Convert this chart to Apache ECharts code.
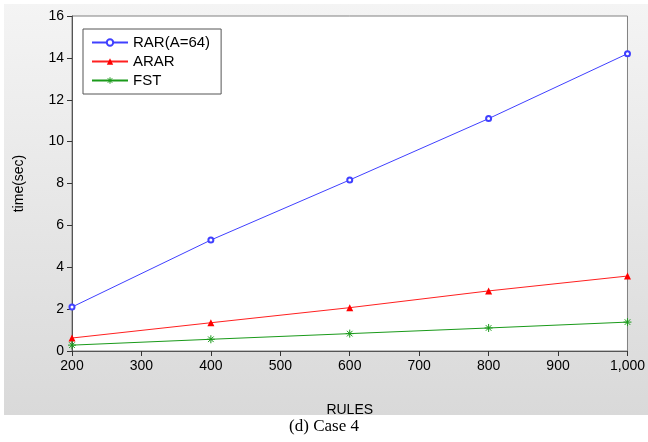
<!DOCTYPE html>
<html><head><meta charset="utf-8">
<script src="https://cdn.jsdelivr.net/npm/echarts@6/dist/echarts.min.js"></script>
<style>html,body{margin:0;padding:0;background:#fff}#c{width:648px;height:442px}</style>
</head><body><div id="c"></div>
<script>
const rules = [200, 400, 600, 800, 1000];
const rarValues = [2.1, 5.3, 8.17, 11.1, 14.2];
const ararValues = [0.62, 1.35, 2.07, 2.87, 3.58];
const fstValues = [0.28, 0.56, 0.83, 1.1, 1.38];
const seriesNames = ['RAR(A=64)', 'ARAR', 'FST'];
const xAxisName = 'RULES';
const yAxisName = 'time(sec)';
const caption = '(d) Case 4';

const star = 'path://M0,-5L0,5M-5,0L5,0M-3.5,-3.5L3.5,3.5M-3.5,3.5L3.5,-3.5';
const pair = (v) => rules.map((r, i) => [r, v[i]]);
const chart = echarts.init(document.getElementById('c'));
chart.setOption({
  animation: false,
  textStyle: {fontFamily: 'Liberation Sans, Arial, sans-serif'},
  graphic: [
    {type: 'rect', z: -10, shape: {x: 4, y: 4, width: 644, height: 411},
     style: {fill: new echarts.graphic.LinearGradient(0, 0, 0, 1, [{offset: 0, color: '#f4f4f4'}, {offset: 1, color: '#d9d9d9'}])}},
    {type: 'text', left: 'center', top: 418, style: {text: caption, font: '17px "Liberation Serif", "Times New Roman", serif', fill: '#000'}}
  ],
  grid: {left: 72, right: 19, top: 16, bottom: 91, show: true, backgroundColor: '#fff', borderColor: '#808080', borderWidth: 1},
  legend: {
    left: 83, top: 29, orient: 'vertical', itemGap: 4, itemWidth: 36, itemHeight: 8,
    backgroundColor: '#fff', borderColor: '#555', borderWidth: 1,
    padding: [6, 11, 6, 8],
    textStyle: {fontSize: 15, color: '#000'},
    data: [
      {name: seriesNames[0]},
      {name: seriesNames[1]},
      {name: seriesNames[2], itemStyle: {color: '#1a9a1a', borderColor: '#1a9a1a', borderWidth: 1}}
    ]
  },
  xAxis: {
    type: 'value', min: 200, max: 1000, interval: 100,
    name: xAxisName, nameLocation: 'middle', nameGap: 52,
    nameTextStyle: {fontSize: 14, color: '#000'},
    axisLine: {lineStyle: {color: '#555'}},
    axisTick: {length: 5, lineStyle: {color: '#333'}},
    axisLabel: {fontSize: 14, color: '#000', margin: 8, formatter: v => v.toLocaleString('en-US')},
    splitLine: {show: false}
  },
  yAxis: {
    type: 'value', min: 0, max: 16, interval: 2,
    name: yAxisName, nameLocation: 'middle', nameGap: 46,
    nameTextStyle: {fontSize: 14, color: '#000'},
    axisLine: {show: true, lineStyle: {color: '#555'}},
    axisTick: {show: true, length: 5, lineStyle: {color: '#333'}},
    axisLabel: {fontSize: 14, color: '#000', margin: 8},
    splitLine: {show: false}
  },
  series: [
    {name: seriesNames[0], type: 'line', data: pair(rarValues), symbol: 'emptyCircle', symbolSize: 5,
     lineStyle: {color: '#4040ff', width: 1}, itemStyle: {color: '#4040ff', borderWidth: 1}},
    {name: seriesNames[1], type: 'line', data: pair(ararValues), symbol: 'triangle', symbolSize: 7,
     lineStyle: {color: '#ff2020', width: 1}, itemStyle: {color: '#ff0000'}},
    {name: seriesNames[2], type: 'line', data: pair(fstValues), symbol: star, symbolSize: 8,
     lineStyle: {color: '#1a9a1a', width: 1}, itemStyle: {color: '#1a9a1a', borderColor: '#1a9a1a', borderWidth: 1}}
  ]
});
</script></body></html>
